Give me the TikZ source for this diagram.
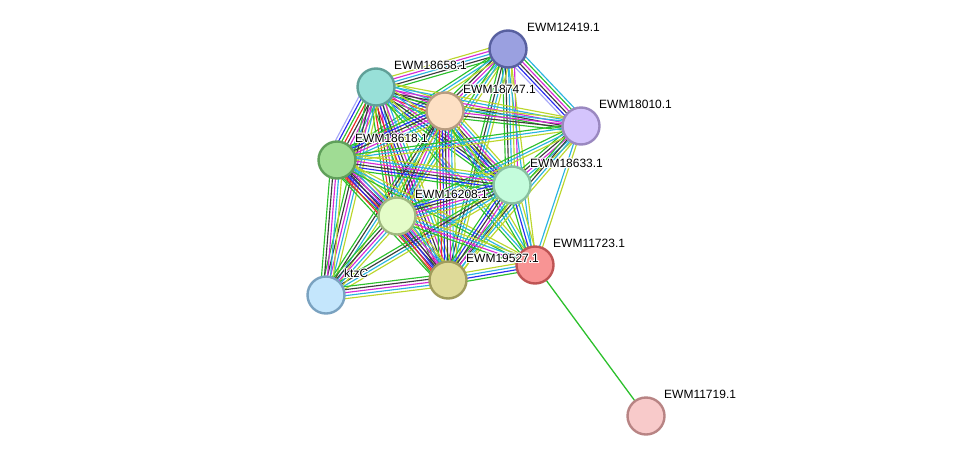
\documentclass[tikz,border=0pt]{standalone}
\usepackage{fontspec}
\setmainfont{Liberation Sans}
\usepackage[copies]{contour}
\contourlength{0.9pt}
\usetikzlibrary{calc,backgrounds}
\definecolor{cg}{HTML}{2CC02C}
\definecolor{ck}{HTML}{3C3C3C}
\definecolor{cm}{HTML}{D62AD6}
\definecolor{cc}{HTML}{2AB4E0}
\definecolor{cy}{HTML}{BCD62C}
\definecolor{cb}{HTML}{2A2AEE}
\definecolor{cr}{HTML}{EE2A2A}
\definecolor{cp}{HTML}{A6A6F8}
\tikzset{
  prot/.style={circle, minimum size=37pt, inner sep=0pt, line width=2.4pt},
  lbl/.style={anchor=west, inner sep=0pt, font=\fontsize{12pt}{12pt}\selectfont, text=black},
  chan/.style={line width=1.15pt},
}
\newcommand\sedge[3]{%
  \foreach \cc [count=\ii] in {#3} {\xdef\ncount{\ii}}%
  \foreach \cc [count=\ii] in {#3} {%
    \pgfmathsetmacro\off{(\ii-(\ncount+1)/2)*3.0}%
    \draw[chan, draw=c\cc] ($(#1.center)!\off pt!90:(#2.center)$) -- ($(#2.center)!\off pt!-90:(#1.center)$);
  }%
}
\begin{document}
\begin{tikzpicture}[x=1pt,y=-1pt]
\useasboundingbox (0,0) rectangle (976,461);
% nodes
\node[prot, fill={rgb,255:red,154;green,160;blue,224}, draw={rgb,255:red,88;green,96;blue,160}] (A) at (508,49) {};
\node[prot, fill={rgb,255:red,152;green,224;blue,216}, draw={rgb,255:red,96;green,160;blue,152}] (B) at (376,87) {};
\node[prot, fill={rgb,255:red,253;green,224;blue,196}, draw={rgb,255:red,184;green,156;blue,128}] (C) at (445,111) {};
\node[prot, fill={rgb,255:red,212;green,196;blue,252}, draw={rgb,255:red,154;green,136;blue,192}] (D) at (581,126) {};
\node[prot, fill={rgb,255:red,160;green,220;blue,148}, draw={rgb,255:red,96;green,160;blue,90}] (E) at (337,160) {};
\node[prot, fill={rgb,255:red,196;green,252;blue,220}, draw={rgb,255:red,136;green,192;blue,160}] (F) at (512,185) {};
\node[prot, fill={rgb,255:red,228;green,252;blue,200}, draw={rgb,255:red,160;green,184;blue,128}] (G) at (397,216) {};
\node[prot, fill={rgb,255:red,248;green,148;blue,148}, draw={rgb,255:red,190;green,84;blue,84}] (H) at (535,265) {};
\node[prot, fill={rgb,255:red,222;green,218;blue,152}, draw={rgb,255:red,160;green,156;blue,92}] (I) at (448,280) {};
\node[prot, fill={rgb,255:red,196;green,230;blue,252}, draw={rgb,255:red,122;green,162;blue,192}] (K) at (326,295) {};
\node[prot, fill={rgb,255:red,248;green,202;blue,202}, draw={rgb,255:red,184;green,132;blue,132}] (L) at (646,416) {};
% edges
\begin{scope}[on background layer]
\sedge{A}{B}{y,m,c,k,g}
\sedge{A}{C}{g,k,m,c,y}
\sedge{A}{D}{p,b,k,m,g,c}
\sedge{A}{E}{g,c,y}
\sedge{A}{F}{g,k,c,y,m}
\sedge{A}{G}{g,c,y}
\sedge{A}{I}{g,k,c,y}
\sedge{A}{H}{c,y}
\sedge{B}{C}{g,r,b,k,m,c,y}
\sedge{B}{D}{g,k,m,c,y}
\sedge{B}{E}{p,b,g,r,k,m,c,y}
\sedge{B}{F}{g,b,k,m,c,y}
\sedge{B}{G}{g,r,k,m,c,y}
\sedge{B}{I}{g,r,b,k,m,c,y}
\sedge{B}{H}{g,c,y}
\sedge{B}{K}{g,k,m,c,y}
\sedge{C}{D}{g,k,m,c,y}
\sedge{C}{E}{g,b,k,m,c,y}
\sedge{C}{F}{g,b,k,m,c,y}
\sedge{C}{G}{g,k,m,c,y}
\sedge{C}{I}{g,r,b,k,m,c,y}
\sedge{C}{H}{g,c,y}
\sedge{C}{K}{g,k,c,y}
\sedge{D}{E}{g,c,y}
\sedge{D}{F}{g,k,m,c,y}
\sedge{D}{G}{g,c,y}
\sedge{D}{I}{g,k,c,y}
\sedge{D}{H}{c,y}
\sedge{E}{F}{g,b,k,m,c,y}
\sedge{E}{G}{g,r,b,k,m,c,y}
\sedge{E}{I}{g,r,b,k,m,c,y}
\sedge{E}{H}{g,c,y}
\sedge{E}{K}{g,k,m,c,y}
\sedge{F}{G}{g,b,k,m,c,y}
\sedge{F}{I}{g,b,k,m,c,y}
\sedge{F}{H}{g,b,c,y}
\sedge{F}{K}{g,k,c,y}
\sedge{G}{I}{g,r,b,k,m,c,y}
\sedge{G}{H}{g,m,c,y}
\sedge{G}{K}{g,k,m,c,y}
\sedge{I}{H}{g,b,c,y}
\sedge{I}{K}{g,k,m,c,y}
\draw[line width=1.3pt, draw=cg] (H.center) -- (L.center);
\end{scope}
% labels
\node[lbl] (lA) at ($(A.center)+(19,-21)$) {\contour{white}{EWM12419.1}};
\node[lbl] (lB) at ($(B.center)+(18,-21)$) {\contour{white}{EWM18658.1}};
\node[lbl] (lC) at ($(C.center)+(18,-21)$) {\contour{white}{EWM18747.1}};
\node[lbl] (lD) at ($(D.center)+(18,-21)$) {\contour{white}{EWM18010.1}};
\node[lbl] (lE) at ($(E.center)+(18,-21)$) {\contour{white}{EWM18618.1}};
\node[lbl] (lF) at ($(F.center)+(18,-21)$) {\contour{white}{EWM18633.1}};
\node[lbl] (lG) at ($(G.center)+(18,-21)$) {\contour{white}{EWM16208.1}};
\node[lbl] (lH) at ($(H.center)+(18,-21)$) {\contour{white}{EWM11723.1}};
\node[lbl] (lI) at ($(I.center)+(18,-21)$) {\contour{white}{EWM19527.1}};
\node[lbl] (lK) at ($(K.center)+(18,-21)$) {\contour{white}{ktzC}};
\node[lbl] (lL) at ($(L.center)+(18,-21)$) {\contour{white}{EWM11719.1}};
\end{tikzpicture}
\end{document}
